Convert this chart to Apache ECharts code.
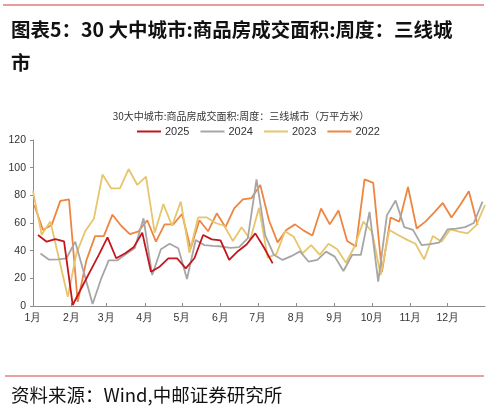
<!DOCTYPE html>
<html><head><meta charset="utf-8">
<script src="https://cdn.jsdelivr.net/npm/echarts@6/dist/echarts.min.js"></script>
<style>html,body{margin:0;padding:0;background:#fff;}#c{width:489px;height:412px;}</style>
</head><body><div id="c"></div>
<script>
// ---- data ----
const monthLabels = ['1月','2月','3月','4月','5月','6月','7月','8月','9月','10月','11月','12月'];
const monthDays = [31,28,31,30,31,30,31,31,30,31,30,31];
const seriesNames = ['2025','2024','2023','2022'];
// date (January day) of the first weekly observation of each year
const firstWeekDay = {'2025': 5, '2024': 7, '2023': 1, '2022': 2};
const v2025 = [51.3,46.5,48.4,46.7,0.7,13,25,37,49.6,34.5,38,42.4,53,24.8,28.4,34.5,34.5,27.2,34.5,51.3,48.2,47.5,33.3,39.6,44.5,52.5,42.3,30.8];
const v2024 = [38,33.5,33.7,34.5,46.5,24,1.5,20,33,33,37.5,42,63.4,22.4,41,45,41.7,19.5,47.7,44,43.4,43,42,42.5,49,91.6,51,37,33.3,36,39.5,32,33.3,39.3,35.7,25.3,36.9,36.9,68,17.6,65.5,76.3,57,55,44,44.8,45.8,55.4,56,57,60,75.4];
const v2023 = [83,51.5,61,34,6.7,38,54,63,95,85,85,99,87.5,93.5,53,73.7,58,75.5,38.5,64,64,60,58,47,57,48,71,35,37.5,54,50,38,44,37,45,41,31.3,43,61,53.7,22.4,55,51.3,48,45,33.7,50.6,46.5,55.4,53.7,52.5,58.5,73];
const v2022 = [73,55,58.5,76,77,3,33,50.5,50.5,66,58,52,54,62,46.5,59,59,66.5,41.5,62,54,67,57,70.5,77,78,87.5,62,46,55,59,54.5,51,70.5,59,69,47,43,91.5,89,24.5,64,61,86,56,61,67.5,74.5,64,73,83,58.5];
const yTicks = [0,20,40,60,80,100,120];

// ---- build ----
const cum = [];
let acc = 0;
monthDays.forEach(d => { cum.push(acc); acc += d; });
const categories = [];
monthDays.forEach((d, m) => { for (let i = 1; i <= d; i++) categories.push((m + 1) + '-' + i); });
function dayIndex(year, jan, k) {
  const dt = new Date(Number(year), 0, jan + 7 * k);
  return cum[dt.getMonth()] + dt.getDate() - 1;
}
function build(year, vals) {
  return vals.map((v, k) => [dayIndex(year, firstWeekDay[year], k), v]);
}
const isMonthStart = (idx) => cum.indexOf(idx) >= 0;

const colors = {'2025': '#c4161c', '2024': '#a6a6a6', '2023': '#e6c56c', '2022': '#ee8540'};
const dataMap = {'2025': v2025, '2024': v2024, '2023': v2023, '2022': v2022};
const zMap = {'2025': 5, '2024': 4, '2023': 3, '2022': 2};

const chart = echarts.init(document.getElementById('c'), null, {renderer: 'canvas'});
chart.setOption({
  animation: false,
  backgroundColor: '#fff',
  title: [
    {
      text: '图表5：30 大中城市:商品房成交面积:周度：三线城\n市',
      left: 6, top: 8,
      textStyle: {fontFamily: 'Noto Sans CJK SC', fontSize: 19.5, fontWeight: 'bold', color: '#111', lineHeight: 33}
    },
    {
      text: '30大中城市:商品房成交面积:周度：三线城市（万平方米）',
      left: 236, textAlign: 'center', top: 106,
      textStyle: {fontFamily: 'Noto Sans CJK SC', fontSize: 10, fontWeight: 'normal', color: '#333'}
    },
    {
      text: '资料来源：Wind,中邮证券研究所',
      left: 6, top: 381,
      textStyle: {fontFamily: 'Noto Sans CJK SC', fontSize: 18.5, fontWeight: 'normal', color: '#111'}
    }
  ],
  graphic: [
    {type: 'line', shape: {x1: 3, y1: 5, x2: 484, y2: 5}, style: {stroke: '#d23a3a', lineWidth: 1.2}},
    {type: 'line', shape: {x1: 5, y1: 376, x2: 484, y2: 376}, style: {stroke: '#d64545', lineWidth: 1.2}}
  ],
  legend: {
    data: seriesNames,
    left: 132, top: 121,
    icon: 'rect', itemWidth: 24, itemHeight: 2, itemGap: 11,
    textStyle: {fontFamily: 'Liberation Sans', fontSize: 11, color: '#333', padding: [0, 0, 0, -1]}
  },
  grid: {left: 33, right: 4, top: 140, bottom: 106, containLabel: false},
  xAxis: {
    type: 'category',
    data: categories,
    boundaryGap: false,
    axisLine: {lineStyle: {color: '#8c8c8c', width: 1}},
    axisTick: {inside: true, length: 3, interval: (i) => isMonthStart(i) && i > 0, lineStyle: {color: '#8c8c8c'}},
    axisLabel: {
      interval: (i) => isMonthStart(i),
      formatter: (val, i) => monthLabels[cum.indexOf(i)],
      fontFamily: 'Liberation Sans', fontSize: 10.5, color: '#333', margin: 7
    },
    splitLine: {show: false}
  },
  yAxis: {
    type: 'value', min: yTicks[0], max: yTicks[yTicks.length - 1], interval: 20,
    axisLine: {show: true, lineStyle: {color: '#8c8c8c', width: 1}},
    axisTick: {show: true, length: 3, lineStyle: {color: '#8c8c8c'}},
    axisLabel: {fontFamily: 'Liberation Sans', fontSize: 10.5, color: '#333', margin: 7},
    splitLine: {show: false}
  },
  series: seriesNames.map(name => ({
    name: name,
    type: 'line',
    data: build(name, dataMap[name]),
    showSymbol: false,
    symbol: 'none',
    z: zMap[name],
    lineStyle: {color: colors[name], width: 1.8},
    itemStyle: {color: colors[name]}
  }))
});
</script></body></html>
